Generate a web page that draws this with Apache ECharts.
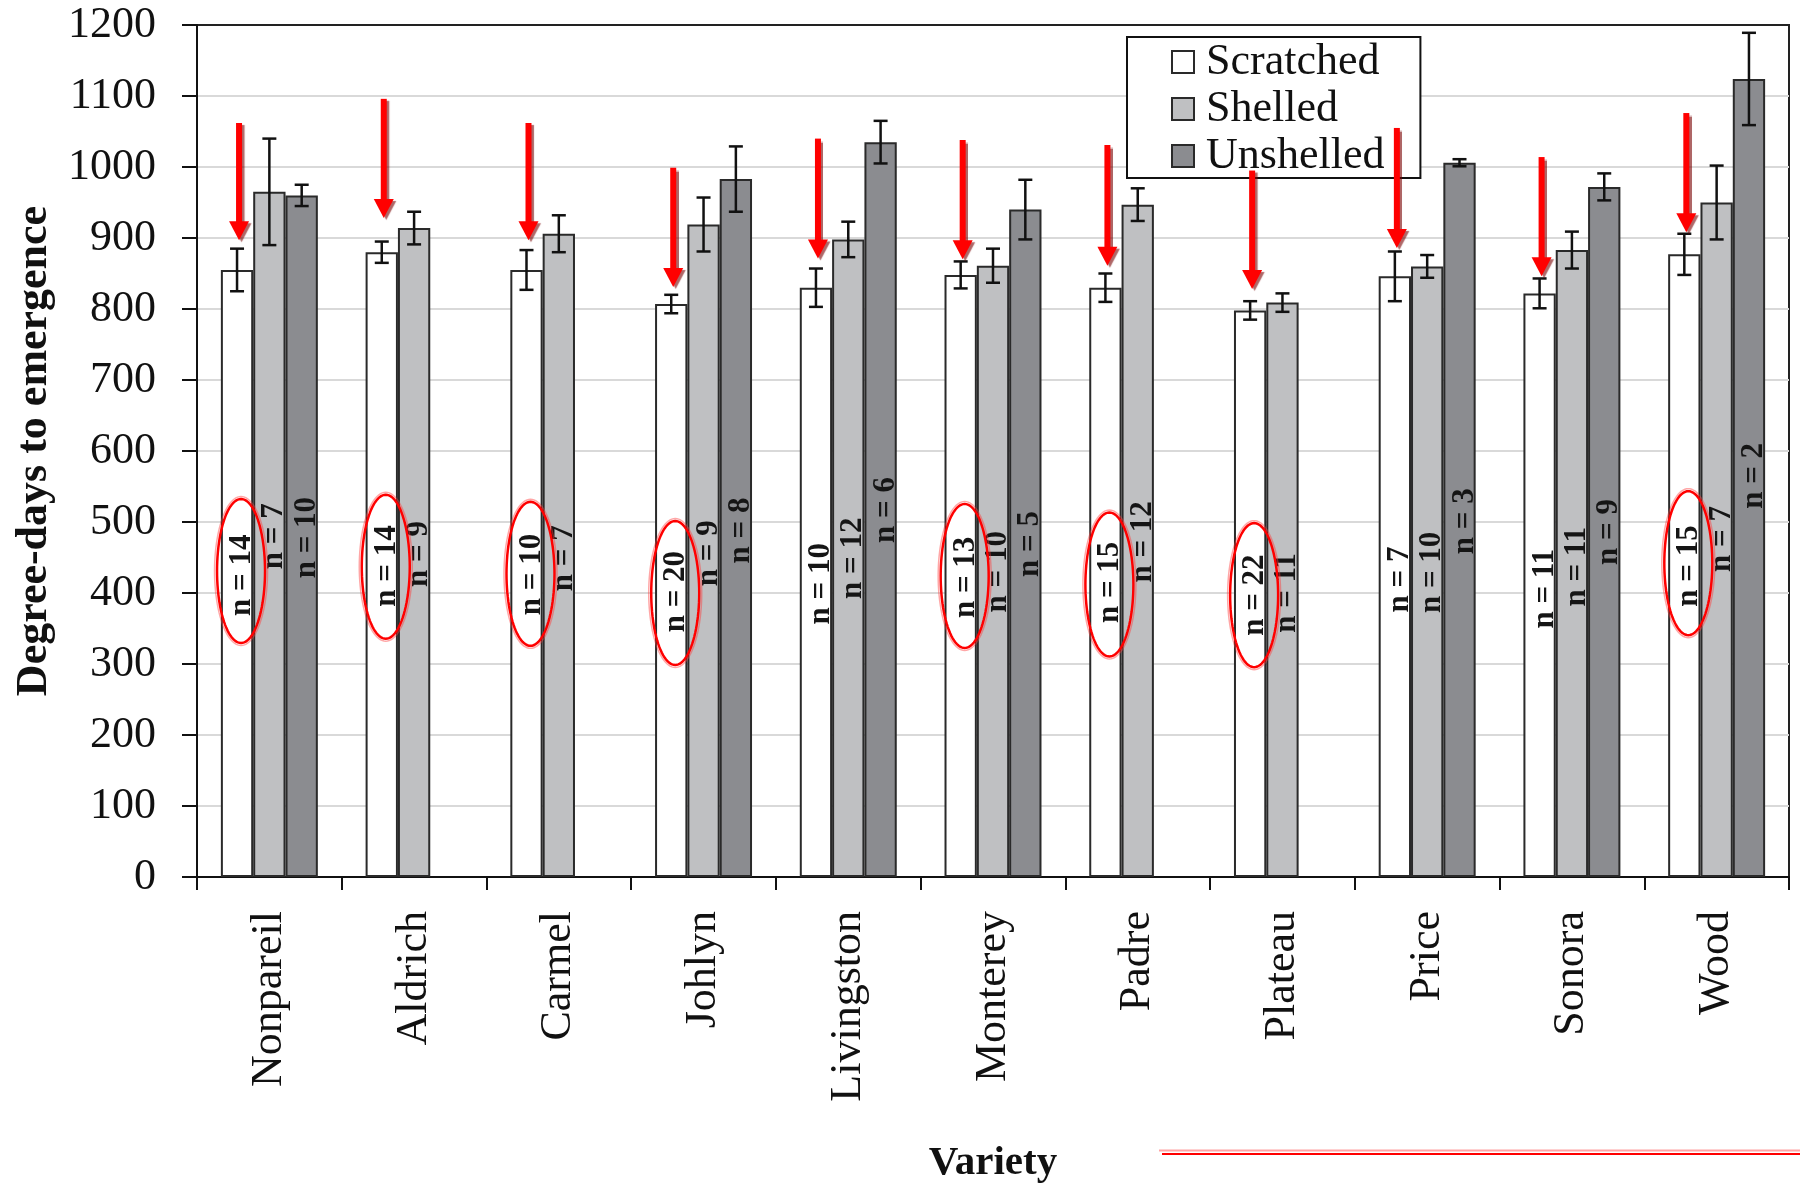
<!DOCTYPE html>
<html>
<head>
<meta charset="utf-8">
<script src="https://cdn.jsdelivr.net/npm/echarts@6/dist/echarts.min.js"></script>
<style>
  html, body { margin: 0; padding: 0; background: #fff; }
  #chart { width: 1800px; height: 1187px; }
</style>
</head>
<body>
<div id="chart"></div>
<script>
// Almond varieties and the three seed treatments
const varieties = ['Nonpareil', 'Aldrich', 'Carmel', 'Johlyn', 'Livingston', 'Monterey', 'Padre', 'Plateau', 'Price', 'Sonora', 'Wood'];
const treatments = ['Scratched', 'Shelled', 'Unshelled'];

// Mean degree-days to emergence
const scratched = [855, 880, 855, 807, 830, 848, 830, 798, 846, 822, 877];
const shelled   = [965, 914, 906, 919, 898, 861, 947, 809, 860, 883, 950];
const unshelled = [960, null, null, 983, 1035, 940, null, null, 1006, 972, 1124];

// Half-widths of the error bars
const scratchedErr = [30, 15, 28, 13, 27, 19, 20, 13, 35, 21, 29];
const shelledErr   = [75, 23, 26, 38, 25, 24, 23, 13, 16, 26, 52];
const unshelledErr = [15, null, null, 46, 30, 42, null, null, 5, 19, 65];

// Sample sizes per bar
const scratchedN = [14, 14, 10, 20, 10, 13, 15, 22, 7, 11, 15];
const shelledN   = [7, 9, 7, 9, 12, 10, 12, 11, 10, 11, 7];
const unshelledN = [10, null, null, 8, 6, 5, null, null, 3, 9, 2];

// Height (in degree-days) at which each "n = " note is centred
const scratchedNAt = [425, 438, 426, 402, 413, 422, 415, 397, 419, 406, 438];
const shelledNAt   = [480, 455, 449, 456, 449, 430, 472, 400, 429, 437, 476];
const unshelledNAt = [478, null, null, 488, 517, 469, null, null, 501, 486, 565];

// Red call-outs on the scratched bars: arrow start / tip, and circled sample sizes
const arrowFrom = [1062, 1096, 1062, 999, 1040, 1038, 1031, 995, 1055, 1014, 1076];
const arrowTo   = [897, 928, 897, 831, 871, 870, 861, 828, 886, 846, 908];
const circledAt = [431, 437, 427, 400, null, 424, 412, 397, null, null, 442];

// Y axis scale
const yMin = 0, yMax = 1200, yStep = 100;

const FONT = '"Liberation Serif", "Times New Roman", serif';
const CATEGORY_GAP = 0.33;
const fills = ['#ffffff', '#bfc0c2', '#8b8c90'];

const means = [scratched, shelled, unshelled];
const errs = [scratchedErr, shelledErr, unshelledErr];
const ns = [scratchedN, shelledN, unshelledN];
const nAt = [scratchedNAt, shelledNAt, unshelledNAt];

// Horizontal centre of bar s inside category cat
function barX(api, cat, s) {
  const band = api.size([1, 0])[0];
  const bw = band * (1 - CATEGORY_GAP) / 3;
  return api.coord([cat, 0])[0] + (s - 1) * bw;
}

const errData = [], labelData = [], arrowData = [], circleData = [];
for (let s = 0; s < 3; s++) {
  for (let i = 0; i < varieties.length; i++) {
    const m = means[s][i];
    if (m == null) continue;
    errData.push([i, s, m - errs[s][i], m + errs[s][i]]);
    labelData.push([i, s, nAt[s][i], ns[s][i]]);
  }
}
for (let i = 0; i < varieties.length; i++) {
  arrowData.push([i, arrowFrom[i], arrowTo[i]]);
  if (circledAt[i] != null) circleData.push([i, circledAt[i]]);
}

const barSeries = treatments.map((name, s) => ({
  name: name,
  type: 'bar',
  data: means[s],
  barGap: '0%',
  barCategoryGap: (CATEGORY_GAP * 100) + '%',
  itemStyle: { color: fills[s], borderColor: '#2a2a2a', borderWidth: 2 },
  emphasis: { disabled: true },
  z: 2
}));

const chart = echarts.init(document.getElementById('chart'), null, { renderer: 'canvas' });

chart.setOption({
  backgroundColor: '#ffffff',
  animation: false,
  grid: {
    left: 197, right: 11, top: 25, bottom: 310,
    containLabel: false,
    outerBoundsMode: 'none',
    show: true,
    borderColor: '#222',
    borderWidth: 2,
    backgroundColor: 'transparent'
  },
  legend: {
    data: treatments,
    orient: 'vertical',
    left: 1127,
    top: 37,
    padding: [3, 36, 0, 44],
    icon: 'rect',
    itemWidth: 22,
    itemHeight: 22,
    itemGap: 3,
    borderColor: '#111',
    borderWidth: 2,
    backgroundColor: '#ffffff',
    selectedMode: false,
    itemStyle: { borderColor: '#2a2a2a', borderWidth: 2 },
    textStyle: { fontFamily: FONT, fontSize: 44, color: '#111', lineHeight: 44, padding: [0, 0, 0, 7] },
    z: 4
  },
  xAxis: {
    type: 'category',
    data: varieties,
    axisLine: { lineStyle: { color: '#111', width: 2 } },
    axisTick: { show: true, length: 13, lineStyle: { color: '#111', width: 2 } },
    axisLabel: { rotate: 90, margin: 34, fontFamily: FONT, fontSize: 44, color: '#111' },
    splitLine: { show: false },
    name: 'Variety',
    nameLocation: 'middle',
    nameGap: 266,
    nameTextStyle: { fontFamily: FONT, fontSize: 41, fontWeight: 'bold', color: '#111' }
  },
  yAxis: {
    type: 'value',
    min: yMin,
    max: yMax,
    interval: yStep,
    axisLine: { show: true, lineStyle: { color: '#111', width: 2 } },
    axisTick: { show: true, length: 15, lineStyle: { color: '#111', width: 2 } },
    axisLabel: {
      margin: 41, fontFamily: FONT, fontSize: 44, color: '#111',
      formatter: function (v) { return String(v); }
    },
    splitLine: { show: true, showMinLine: false, showMaxLine: false, lineStyle: { color: '#d9d9d9', width: 2 } },
    name: 'Degree-days to emergence',
    nameLocation: 'middle',
    nameGap: 137,
    nameRotate: 90,
    nameTextStyle: { fontFamily: FONT, fontSize: 44, fontWeight: 'bold', color: '#111' }
  },
  graphic: [
    { type: 'line', shape: { x1: 1159, y1: 1150.5, x2: 1800, y2: 1150.5 }, style: { stroke: 'rgba(255,90,90,0.55)', lineWidth: 2 } },
    { type: 'line', shape: { x1: 1162, y1: 1154, x2: 1800, y2: 1154 }, style: { stroke: '#ff0000', lineWidth: 2 } }
  ],
  series: barSeries.concat([
    {
      // error bars
      type: 'custom',
      data: errData,
      encode: { x: 0, y: [2, 3] },
      z: 5,
      silent: true,
      renderItem: function (params, api) {
        const cat = api.value(0), s = api.value(1);
        const x = barX(api, cat, s);
        const yLo = api.coord([cat, api.value(2)])[1];
        const yHi = api.coord([cat, api.value(3)])[1];
        const cap = 7;
        const st = { stroke: '#111', lineWidth: 2.5 };
        return {
          type: 'group',
          children: [
            { type: 'line', shape: { x1: x, y1: yHi, x2: x, y2: yLo }, style: st },
            { type: 'line', shape: { x1: x - cap, y1: yHi, x2: x + cap, y2: yHi }, style: st },
            { type: 'line', shape: { x1: x - cap, y1: yLo, x2: x + cap, y2: yLo }, style: st }
          ]
        };
      }
    },
    {
      // sample size notes inside the bars
      type: 'custom',
      data: labelData,
      encode: { x: 0, y: 2 },
      z: 6,
      silent: true,
      renderItem: function (params, api) {
        const cat = api.value(0), s = api.value(1);
        const x = barX(api, cat, s) + 5;
        const y = api.coord([cat, api.value(2)])[1];
        return {
          type: 'text',
          x: x,
          y: y,
          rotation: Math.PI / 2,
          style: {
            text: 'n = ' + api.value(3),
            font: 'bold 31px ' + FONT,
            fill: '#151515',
            align: 'center',
            verticalAlign: 'middle'
          }
        };
      }
    },
    {
      // red rings around selected sample sizes
      type: 'custom',
      data: circleData,
      encode: { x: 0, y: 1 },
      z: 8,
      silent: true,
      renderItem: function (params, api) {
        const cat = api.value(0);
        const cx = barX(api, cat, 0) + 4;
        const cy = api.coord([cat, api.value(1)])[1];
        function ring(rx, ry) {
          const pts = [];
          for (let k = 0; k < 96; k++) {
            const a = k / 96 * Math.PI * 2;
            pts.push([cx + rx * Math.cos(a), cy + ry * Math.sin(a)]);
          }
          return pts;
        }
        return {
          type: 'group',
          children: [
            { type: 'polygon', shape: { points: ring(26.5, 74.5) }, style: { fill: 'none', stroke: 'rgba(255,60,60,0.45)', lineWidth: 1.5 } },
            { type: 'polygon', shape: { points: ring(24, 72) }, style: { fill: 'none', stroke: '#ff0000', lineWidth: 2.5 } }
          ]
        };
      }
    },
    {
      // red arrows pointing at the scratched bars
      type: 'custom',
      data: arrowData,
      encode: { x: 0, y: [1, 2] },
      z: 10,
      silent: true,
      renderItem: function (params, api) {
        const cat = api.value(0);
        const x = barX(api, cat, 0) + 2;
        const y1 = api.coord([cat, api.value(1)])[1];
        const y2 = api.coord([cat, api.value(2)])[1];
        const headH = 19, headW = 10;
        const shadow = { shadowColor: 'rgba(120,0,0,0.6)', shadowOffsetX: 2.5, shadowOffsetY: 2, shadowBlur: 1 };
        return {
          type: 'group',
          children: [
            { type: 'line', shape: { x1: x, y1: y1, x2: x, y2: y2 - headH + 2 },
              style: Object.assign({ stroke: '#ff0000', lineWidth: 6 }, shadow) },
            { type: 'polygon', shape: { points: [[x - headW, y2 - headH], [x + headW, y2 - headH], [x, y2]] },
              style: Object.assign({ fill: '#ff0000' }, shadow) }
          ]
        };
      }
    }
  ])
});
</script>
</body>
</html>
